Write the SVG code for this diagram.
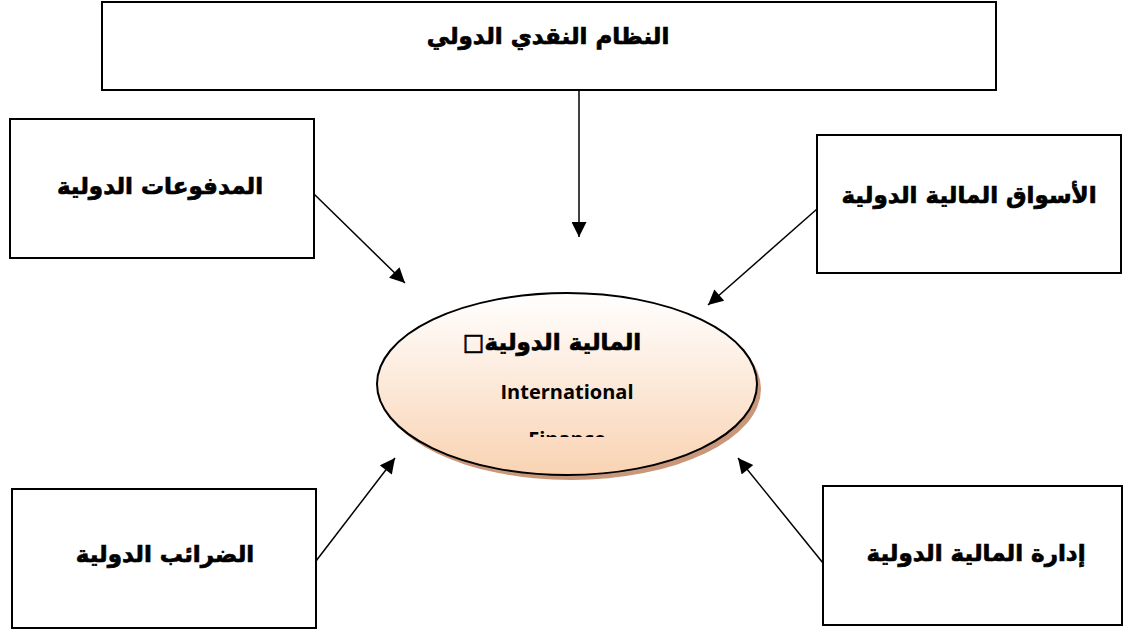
<svg xmlns="http://www.w3.org/2000/svg" width="1124" height="631" viewBox="0 0 1124 631">
  <style>
    .box { fill: #ffffff; stroke: #000000; stroke-width: 2; }
    .lbl { font-family: "DejaVu Sans", "Noto Sans", sans-serif; font-weight: bold; font-size: 23px; fill: #000000; stroke: #000000; stroke-width: 0.7; }
    .en { font-family: "Open Sans", "Liberation Sans", sans-serif; font-weight: bold; font-size: 20px; fill: #000000; }
    .conn { stroke: #000000; stroke-width: 1.5; fill: none; marker-end: url(#head); }
  </style>
  <defs>
    <marker id="head" viewBox="0 0 10 10" refX="10" refY="5" markerWidth="11" markerHeight="10" markerUnits="strokeWidth" orient="auto">
      <path d="M0,0 L10,5 L0,10 z" fill="#000000"/>
    </marker>
    <linearGradient id="peach" x1="0" y1="0" x2="0" y2="1">
      <stop offset="0" stop-color="#ffffff"/>
      <stop offset="1" stop-color="#f9d3b3"/>
    </linearGradient>
    <clipPath id="ovalText">
      <rect x="380" y="300" width="380" height="137"/>
    </clipPath>
  </defs>

  <g id="connectors">
    <line class="conn" x1="579" y1="91" x2="579" y2="237"/>
    <line class="conn" x1="314" y1="194" x2="405" y2="283"/>
    <line class="conn" x1="817" y1="209" x2="708" y2="305"/>
    <line class="conn" x1="316" y1="561" x2="395" y2="458"/>
    <line class="conn" x1="823" y1="563" x2="738" y2="458"/>
  </g>

  <g id="node-monetary-system">
    <rect class="box" x="102" y="2" width="894" height="88"/>
    <text class="lbl" x="548" y="44" text-anchor="middle" direction="rtl">النظام النقدي الدولي</text>
  </g>

  <g id="node-payments">
    <rect class="box" x="10" y="119" width="304" height="139"/>
    <text class="lbl" x="160" y="194" text-anchor="middle" direction="rtl">المدفوعات الدولية</text>
  </g>

  <g id="node-markets">
    <rect class="box" x="817" y="135" width="304" height="138"/>
    <text class="lbl" x="969" y="203" text-anchor="middle" direction="rtl">الأسواق المالية الدولية</text>
  </g>

  <g id="node-finance">
    <ellipse cx="571" cy="389" rx="190" ry="91" fill="#c9977a"/>
    <ellipse cx="567" cy="384" rx="190" ry="91" fill="url(#peach)" stroke="#000000" stroke-width="2"/>
    <g clip-path="url(#ovalText)">
      <text class="lbl" x="552" y="350" text-anchor="middle" direction="rtl">المالية الدولية□</text>
      <text class="en" x="567" y="399" text-anchor="middle">International</text>
      <text class="en" x="567" y="446" text-anchor="middle">Finance</text>
    </g>
  </g>

  <g id="node-taxes">
    <rect class="box" x="12" y="489" width="304" height="139"/>
    <text class="lbl" x="165" y="562" text-anchor="middle" direction="rtl">الضرائب الدولية</text>
  </g>

  <g id="node-management">
    <rect class="box" x="823" y="486" width="299" height="139"/>
    <text class="lbl" x="976" y="561" text-anchor="middle" direction="rtl">إدارة المالية الدولية</text>
  </g>
</svg>
